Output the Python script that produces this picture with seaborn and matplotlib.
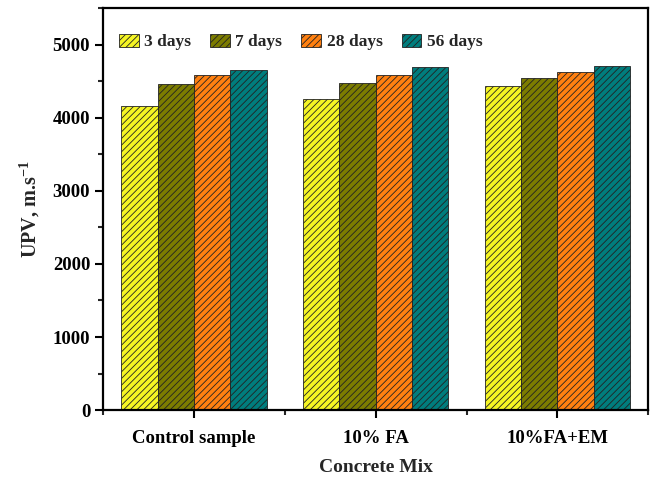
import numpy as np
import pandas as pd
import matplotlib
matplotlib.use('Agg')
import matplotlib.pyplot as plt
from matplotlib.ticker import MultipleLocator
import seaborn as sns

mixes = ['Control sample', '10% FA', '10%FA+EM']
ages = ['3 days', '7 days', '28 days', '56 days']
upv_3d = [4155, 4255, 4430]
upv_7d = [4460, 4470, 4540]
upv_28d = [4580, 4580, 4620]
upv_56d = [4650, 4700, 4710]
colors = ['#F5F523', '#7C7C00', '#FF8010', '#007D7D']

rows = []
for age, vals in zip(ages, [upv_3d, upv_7d, upv_28d, upv_56d]):
    for mix, v in zip(mixes, vals):
        rows.append({'Concrete Mix': mix, 'Age': age, 'UPV': v})
df = pd.DataFrame(rows)

sns.set_style('ticks')
plt.rcParams['font.family'] = ['Liberation Serif', 'DejaVu Serif']
plt.rcParams['font.weight'] = 'bold'
plt.rcParams['mathtext.fontset'] = 'custom'
plt.rcParams['mathtext.rm'] = 'Liberation Serif:bold'
plt.rcParams['mathtext.bf'] = 'Liberation Serif:bold'
plt.rcParams['hatch.linewidth'] = 0.6
plt.rcParams['hatch.color'] = '#222222'

fig = plt.figure(figsize=(6.54, 4.78), dpi=100)
ax = fig.add_axes([0.158, 0.142, 0.833, 0.841])

sns.barplot(data=df, x='Concrete Mix', y='UPV', hue='Age', order=mixes,
            hue_order=ages, palette=colors, width=0.8, saturation=1,
            edgecolor='#222222', linewidth=0.6, legend=False, ax=ax)

for c in ax.containers:
    for p in c.patches:
        p.set_hatch('/////')

ax.set_xlim(-0.5, 2.5)
ax.set_ylim(0, 5500)
ax.yaxis.set_major_locator(MultipleLocator(1000))
ax.yaxis.set_minor_locator(MultipleLocator(500))
ax.set_xticks([-0.5, 0.5, 1.5, 2.5], minor=True)

for s in ax.spines.values():
    s.set_visible(True)
    s.set_linewidth(1.6)
    s.set_color('black')
ax.tick_params(which='major', direction='out', length=6, width=1.5,
               labelsize=13.5, colors='black')
ax.tick_params(axis='x', which='major', pad=8)
ax.tick_params(which='minor', direction='out', length=3.5, width=1.5)
for lab in ax.get_xticklabels() + ax.get_yticklabels():
    lab.set_fontweight('bold')

ax.set_xlabel('Concrete Mix', fontsize=14, fontweight='bold', labelpad=9)
ax.set_ylabel(r'UPV, m.s$^{-1}$', fontsize=14.5, fontweight='bold', labelpad=8)

handles = [c.patches[0] for c in ax.containers]
ax.legend(handles, ages, loc='upper left', ncol=4, frameon=False,
          handlelength=1.15, handleheight=0.75, handletextpad=0.3,
          columnspacing=1.1, bbox_to_anchor=(0.0, 0.975),
          prop={'weight': 'bold', 'size': 12.5})

fig.savefig('out.png', dpi=100)
